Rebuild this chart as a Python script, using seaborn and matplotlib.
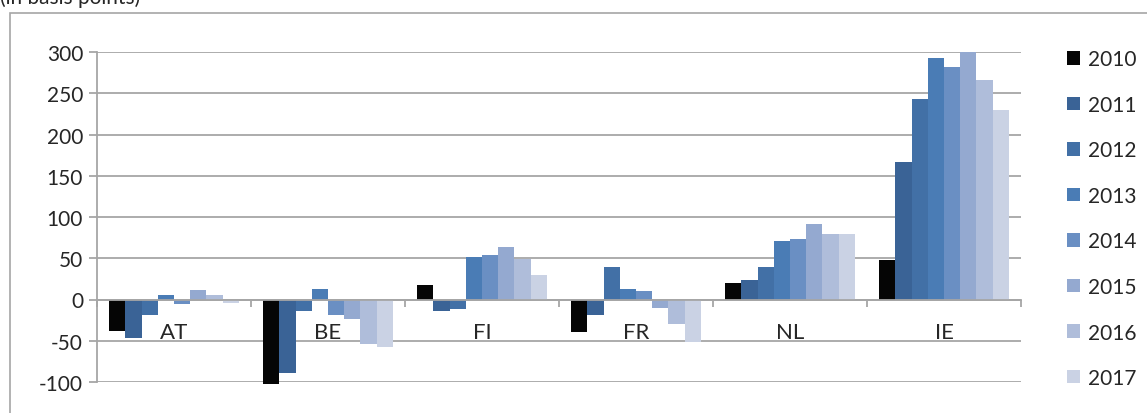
import pandas as pd
import seaborn as sns
import matplotlib.pyplot as plt
from matplotlib.patches import Rectangle

# Data (basis points)
countries = ["AT", "BE", "FI", "FR", "NL", "IE"]
years = ["2010", "2011", "2012", "2013", "2014", "2015", "2016", "2017"]

at_vals = [-38, -47, -19, 6, -6, 11, 6, -4]
be_vals = [-103, -89, -14, 13, -19, -24, -54, -58]
fi_vals = [17, -14, -12, 52, 54, 64, 49, 30]
fr_vals = [-39, -19, 39, 13, 10, -10, -30, -52]
nl_vals = [20, 24, 40, 71, 73, 91, 80, 80]
ie_vals = [48, 167, 243, 293, 282, 300, 266, 230]

colors = ["#050505", "#3a6396", "#4270a6", "#4a7cb5",
          "#6a8fc3", "#94a9d0", "#afbdda", "#cad2e4"]

# Long format table
rows = []
for c, vals in zip(countries, [at_vals, be_vals, fi_vals, fr_vals, nl_vals, ie_vals]):
    for y, v in zip(years, vals):
        rows.append({"country": c, "year": y, "value": v})
df = pd.DataFrame(rows)

sns.set_style("white")
plt.rcParams["font.family"] = ["Lato", "DejaVu Sans"]
plt.rcParams["axes.unicode_minus"] = False

fig = plt.figure(figsize=(11.47, 4.14), dpi=100)
ax = fig.add_axes([97 / 1147, 1 - 383 / 414, (1021 - 97) / 1147, (383 - 53) / 414])

sns.barplot(data=df, x="country", y="value", hue="year", palette=colors,
            width=0.84, saturation=1, linewidth=0, ax=ax)

for p in ax.patches:
    p.set_clip_on(False)

grey = "#a6a6a6"
ax.set_ylim(-100, 300)
ax.set_xlim(-0.5, 5.5)
ax.set_yticks(range(-100, 301, 50))
ax.yaxis.grid(True, color=grey, linewidth=1.3)
ax.set_axisbelow(True)

for s in ["top", "right"]:
    ax.spines[s].set_visible(False)
ax.spines["left"].set_color(grey)
ax.spines["left"].set_linewidth(1.3)
ax.spines["bottom"].set_position(("data", 0))
ax.spines["bottom"].set_color(grey)
ax.spines["bottom"].set_linewidth(1.3)

ax.tick_params(axis="y", length=6, width=1.3, color=grey, labelsize=15,
               labelcolor="#262626", pad=4, left=True, direction="out")
ax.set_xticks(range(len(countries)))
ax.set_xticklabels(countries)
ax.set_xticks([i - 0.5 for i in range(len(countries) + 1)], minor=True)
ax.tick_params(axis="x", which="major", length=0, labelsize=16,
               labelcolor="#262626", pad=16)
ax.tick_params(axis="x", which="minor", length=5, width=1.3, color=grey,
               bottom=True, direction="out")
ax.set_xlabel("")
ax.set_ylabel("")

# Legend on the right
handles, labels = ax.get_legend_handles_labels()
ax.get_legend().remove()
fig.legend(handles, labels, loc="upper left",
           bbox_to_anchor=(1057 / 1147, 1 - 40 / 414),
           frameon=False, fontsize=15, handlelength=0.62, handleheight=0.62,
           handletextpad=0.35, labelspacing=1.225, borderpad=0,
           labelcolor="#262626")

# Outer frame and the note on top (partly cut off, as in the source)
fig.patches.append(Rectangle((10 / 1147, -0.1), 1.2, 1 - 14 / 414 + 0.1,
                             transform=fig.transFigure, fill=False,
                             edgecolor=grey, linewidth=1.2))
fig.text(0.0, 1 - 4 / 414, "(in basis points)", fontsize=15,
         color="#262626", va="baseline")

fig.savefig("out.png", dpi=100)
